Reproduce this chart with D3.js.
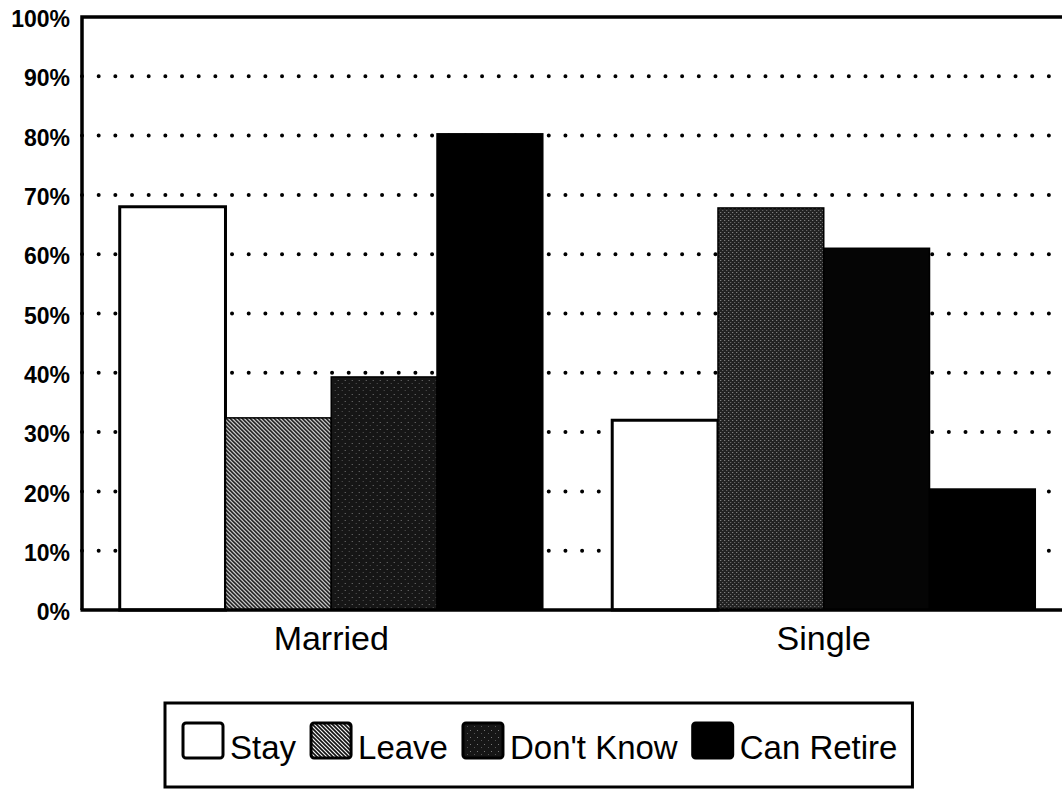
<!DOCTYPE html>
<html>
<head>
<meta charset="utf-8">
<script src="https://cdnjs.cloudflare.com/ajax/libs/d3/7.8.5/d3.min.js"></script>
<style>
  body { margin: 0; background: #fff; }
  svg { display: block; font-family: "Liberation Sans", Arial, Helvetica, sans-serif; }
</style>
</head>
<body>
<div id="chart"></div>
<script>
// data (percent)
var groups = ["Married", "Single"];
var series = ["Stay", "Leave", "Don't Know", "Can Retire"];
var married = [68.0, 32.4, 39.3, 80.3];
var single = [32.0, 67.8, 61.0, 20.4];
var yTicks = [0, 10, 20, 30, 40, 50, 60, 70, 80, 90, 100];

var values = {"Married": married, "Single": single};

var W = 1062, H = 790;
var plot = {left: 82, top: 17, bottom: 610, right: 1078};

var svg = d3.select("#chart")
    .append("svg")
    .attr("width", W)
    .attr("height", H);

// patterns for the scanned-looking fills
var defs = svg.append("defs");

var hatch = defs.append("pattern")
    .attr("id", "hatch")
    .attr("patternUnits", "userSpaceOnUse")
    .attr("width", 4).attr("height", 4);
hatch.append("rect").attr("width", 4).attr("height", 4).attr("fill", "#f2f2f2");
hatch.append("path")
    .attr("d", "M0,0 L4,4 M-1,3 L1,5 M3,-1 L5,1")
    .attr("stroke", "#111").attr("stroke-width", 1.6);

var stipple = defs.append("pattern")
    .attr("id", "stipple")
    .attr("patternUnits", "userSpaceOnUse")
    .attr("width", 7).attr("height", 7);
stipple.append("rect").attr("width", 7).attr("height", 7).attr("fill", "#161616");
stipple.append("rect").attr("x", 1).attr("y", 2).attr("width", 1).attr("height", 1).attr("fill", "#777");
stipple.append("rect").attr("x", 5).attr("y", 5).attr("width", 1).attr("height", 1).attr("fill", "#555");

var greyStipple = defs.append("pattern")
    .attr("id", "greyStipple")
    .attr("patternUnits", "userSpaceOnUse")
    .attr("width", 4).attr("height", 4);
greyStipple.append("rect").attr("width", 4).attr("height", 4).attr("fill", "#222");
greyStipple.append("rect").attr("x", 0).attr("y", 0).attr("width", 1).attr("height", 1).attr("fill", "#999");
greyStipple.append("rect").attr("x", 2).attr("y", 2).attr("width", 1).attr("height", 1).attr("fill", "#777");

var fills = {"Stay": "#fff", "Leave": "url(#hatch)", "Don't Know": "url(#stipple)", "Can Retire": "#000"};
// the scan of the Single bars came out darker than the Married ones
function fillFor(g, s) {
    if (g == "Single" && s == "Leave") return "url(#greyStipple)";
    if (g == "Single" && s == "Don't Know") return "#050505";
    return fills[s];
}

var x0 = d3.scaleBand()
    .domain(groups)
    .range([85, 1070])
    .paddingInner(0.141)
    .paddingOuter(0.0705);

var x1 = d3.scaleBand()
    .domain(series)
    .range([0, x0.bandwidth()]);

var y = d3.scaleLinear()
    .domain([0, 100])
    .range([plot.bottom, plot.top]);

// dotted gridlines
svg.append("g")
    .selectAll("line")
    .data(yTicks.filter(function (d) { return d > 0 && d < 100; }))
    .enter()
    .append("line")
    .attr("x1", plot.left)
    .attr("x2", W)
    .attr("y1", function (d) { return y(d); })
    .attr("y2", function (d) { return y(d); })
    .attr("stroke", "#000")
    .attr("stroke-width", 4)
    .attr("stroke-linecap", "round")
    .attr("stroke-dasharray", "0,16.67");

// bars
var bar = svg.append("g")
    .selectAll("g")
    .data(groups)
    .enter()
    .append("g")
    .attr("transform", function (g) { return "translate(" + x0(g) + ",0)"; });

bar.selectAll("rect")
    .data(function (g) {
        return series.map(function (s, i) { return {g: g, s: s, v: values[g][i]}; });
    })
    .enter()
    .append("rect")
    .attr("x", function (d) { return x1(d.s); })
    .attr("y", function (d) { return y(d.v); })
    .attr("width", x1.bandwidth())
    .attr("height", function (d) { return y(0) - y(d.v); })
    .attr("fill", function (d) { return fillFor(d.g, d.s); })
    .attr("stroke", "#000")
    .attr("stroke-width", function (d) { return d.s == "Stay" ? 3 : 1.5; });

// frame: left, top and bottom lines
svg.append("path")
    .attr("d", "M" + plot.left + "," + plot.bottom + " L" + plot.left + "," + y(100) + " L" + W + "," + y(100))
    .attr("fill", "none")
    .attr("stroke", "#000")
    .attr("stroke-width", 3.5);
svg.append("line")
    .attr("x1", plot.left - 1.5).attr("x2", W)
    .attr("y1", plot.bottom).attr("y2", plot.bottom)
    .attr("stroke", "#000")
    .attr("stroke-width", 3.5);

// y axis labels
var yAxis = svg.append("g")
    .attr("transform", "translate(" + plot.left + ",0)")
    .call(d3.axisLeft(y).tickValues(yTicks).tickSize(0).tickPadding(12)
        .tickFormat(function (d) { return d + "%"; }));
yAxis.select(".domain").remove();
yAxis.selectAll("text")
    .attr("dy", "0.42em")
    .attr("font-size", 23)
    .attr("font-weight", "bold")
    .attr("font-family", "Liberation Sans, Arial, sans-serif")
    .attr("fill", "#000");

// category labels
var xAxis = svg.append("g")
    .attr("transform", "translate(0," + plot.bottom + ")")
    .call(d3.axisBottom(x0).tickSize(0).tickPadding(16));
xAxis.select(".domain").remove();
xAxis.selectAll("text")
    .attr("font-size", 34)
    .attr("font-family", "Liberation Sans, Arial, sans-serif")
    .attr("fill", "#000");

// legend
var legend = svg.append("g");
var lx = 183, swW = 40, swH = 35, swY = 723, textY = 759;
legend.selectAll("g")
    .data(series)
    .enter()
    .append("g")
    .each(function (s) {
        var g = d3.select(this);
        g.append("rect")
            .attr("x", lx).attr("y", swY)
            .attr("width", swW).attr("height", swH)
            .attr("rx", 3)
            .attr("fill", fills[s])
            .attr("stroke", "#000")
            .attr("stroke-width", 3);
        var t = g.append("text")
            .attr("x", lx + swW + 7)
            .attr("y", textY)
            .attr("font-size", 33)
            .attr("fill", "#000")
            .text(s);
        lx = lx + swW + 7 + t.node().getComputedTextLength() + 15;
    });

legend.insert("rect", ":first-child")
    .attr("x", 165)
    .attr("y", 703)
    .attr("width", lx - 165)
    .attr("height", 84)
    .attr("fill", "#fff")
    .attr("stroke", "#000")
    .attr("stroke-width", 3);
</script>
</body>
</html>
